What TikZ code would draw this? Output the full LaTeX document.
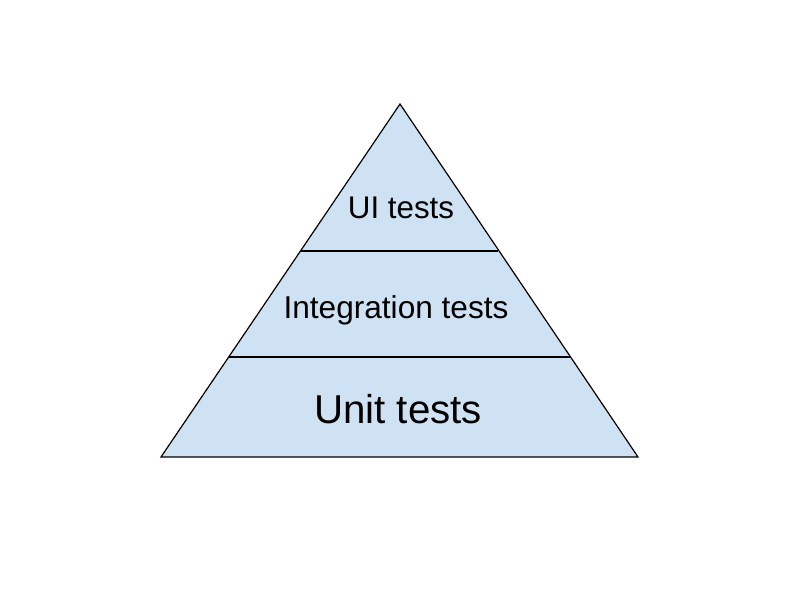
\documentclass[tikz,border=0pt]{standalone}
\usepackage{fontspec}
\setmainfont{Liberation Sans}
\definecolor{tierfill}{HTML}{CFE2F3}
\begin{document}
\begin{tikzpicture}[x=0.75pt,y=-0.75pt,
  tier/.style={draw=black,line width=0.9pt,line join=miter},
  divider/.style={draw=black,line width=0.9pt},
  label/.style={anchor=base,inner sep=0pt,text=black}]
\useasboundingbox (0,0) rectangle (800,600);
\coordinate (apex) at (400,104);
\coordinate (bl) at (161,457);
\coordinate (br) at (638,457);
\coordinate (l1) at (301,251);
\coordinate (r1) at (498,251);
\coordinate (l2) at (229,357);
\coordinate (r2) at (570,357);
\fill[tierfill] (apex) -- (br) -- (bl) -- cycle;
\draw[divider] (l1) -- (r1);
\draw[divider] (l2) -- (r2);
\draw[tier] (apex) -- (br) -- (bl) -- cycle;
\node[label,font=\fontsize{23.5pt}{27pt}\selectfont] (ui) at (401,218) {UI tests};
\node[label,font=\fontsize{23.7pt}{28pt}\selectfont] (int) at (396,318) {Integration tests};
\node[label,font=\fontsize{30.2pt}{35pt}\selectfont] (unit) at (398,423) {Unit tests};
\end{tikzpicture}
\end{document}
